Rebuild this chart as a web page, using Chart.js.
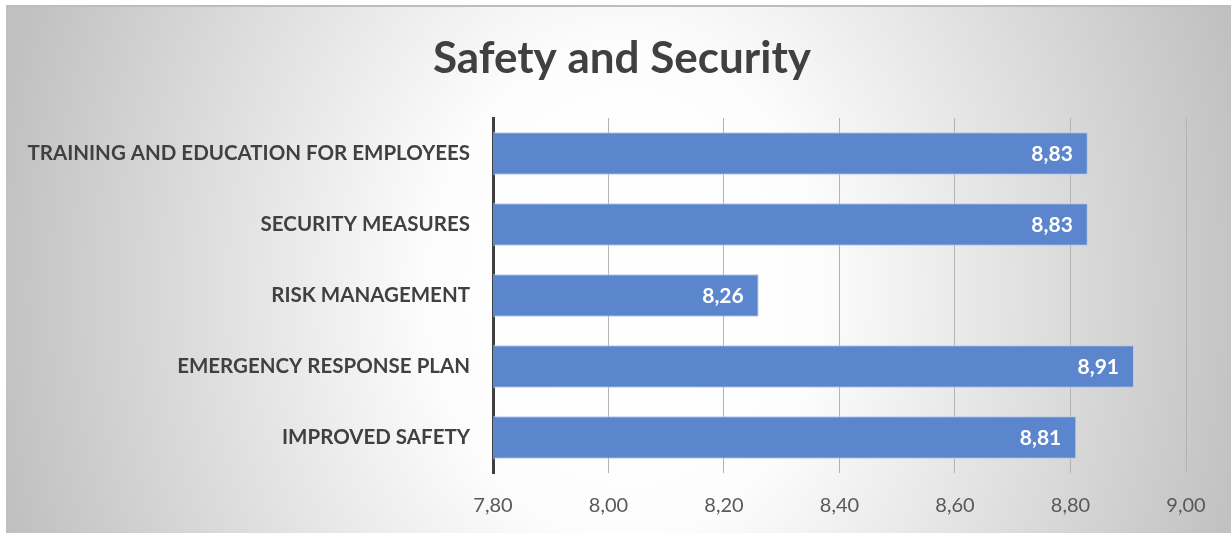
<!DOCTYPE html>
<html>
<head>
<meta charset="utf-8">
<title>Safety and Security</title>
<script src="https://cdn.jsdelivr.net/npm/chart.js@4/dist/chart.umd.min.js"></script>
<style>
  html, body { margin: 0; padding: 0; background: #fff; }
  #wrap { width: 1231px; height: 533px; }
</style>
</head>
<body>
<div id="wrap"><canvas id="myChart" width="1231" height="533"></canvas></div>
<script>
const chartTitle = 'Safety and Security';
const categories = [
  'TRAINING AND EDUCATION FOR EMPLOYEES',
  'SECURITY MEASURES',
  'RISK MANAGEMENT',
  'EMERGENCY RESPONSE PLAN',
  'IMPROVED SAFETY'
];
const scores = [8.83, 8.83, 8.26, 8.91, 8.81];
const axisMin = 7.8;
const axisMax = 9.0;
const axisStep = 0.2;

const fontName = 'Lato, "Open Sans", sans-serif';

function commaNum(v) {
  return Number(v).toFixed(2).replace('.', ',');
}

// grey-to-white radial backdrop like the office chart style
const backdrop = {
  id: 'backdrop',
  beforeDraw(chart) {
    const ctx = chart.ctx;
    const w = chart.width;
    const h = chart.height;
    ctx.save();
    ctx.fillStyle = '#ffffff';
    ctx.fillRect(0, 0, w, h);
    ctx.beginPath();
    ctx.rect(6, 5, w - 6, h - 5);
    ctx.clip();
    ctx.save();
    ctx.translate(625, 290);
    ctx.scale(1, 1.25);
    const g = ctx.createRadialGradient(0, 0, 0, 0, 0, 640);
    g.addColorStop(0, '#ffffff');
    g.addColorStop(0.3, '#fdfdfd');
    g.addColorStop(1, '#c0c0c0');
    ctx.fillStyle = g;
    ctx.fillRect(-700, -300, 1400, 600);
    ctx.restore();
    // thin frame line along the top
    ctx.strokeStyle = '#bdbdbd';
    ctx.lineWidth = 2;
    ctx.beginPath();
    ctx.moveTo(6, 6);
    ctx.lineTo(w, 6);
    ctx.stroke();
    ctx.restore();
  }
};

// title drawn by hand so it can sit a bit right of the canvas centre
const titleText = {
  id: 'titleText',
  afterDraw(chart) {
    const ctx = chart.ctx;
    ctx.save();
    ctx.font = 'bold 44px ' + fontName;
    ctx.fillStyle = '#404040';
    ctx.textAlign = 'center';
    ctx.textBaseline = 'alphabetic';
    ctx.fillText(chartTitle, 622, 73);
    ctx.restore();
  }
};

// white value labels at the inner end of each bar
const barValues = {
  id: 'barValues',
  afterDatasetsDraw(chart) {
    const ctx = chart.ctx;
    const meta = chart.getDatasetMeta(0);
    ctx.save();
    ctx.font = 'bold 21px ' + fontName;
    ctx.fillStyle = '#ffffff';
    ctx.textAlign = 'right';
    ctx.textBaseline = 'middle';
    meta.data.forEach((bar, i) => {
      ctx.fillText(commaNum(scores[i]), bar.x - 15, bar.y + 1);
    });
    ctx.restore();
  }
};

const ctxEl = document.getElementById('myChart');
const chart = new Chart(ctxEl, {
  type: 'bar',
  data: {
    labels: categories,
    datasets: [{
      data: scores,
      backgroundColor: '#5b86ce',
      borderColor: '#b9cbeb',
      borderWidth: 1,
      borderSkipped: false,
      categoryPercentage: 0.6,
      barPercentage: 1.0
    }]
  },
  options: {
    indexAxis: 'y',
    responsive: false,
    animation: false,
    devicePixelRatio: 1,
    layout: { padding: { left: 6, top: 118, right: 45, bottom: 0 } },
    plugins: {
      legend: { display: false },
      tooltip: { enabled: false },
      title: { display: false }
    },
    scales: {
      x: {
        min: axisMin,
        max: axisMax,
        afterFit(scale) { scale.height = 60; },
        ticks: {
          stepSize: axisStep,
          color: '#595959',
          padding: 21,
          font: { family: fontName, size: 20 },
          callback: (v) => commaNum(v)
        },
        grid: { color: '#b3b3b3', lineWidth: 1, drawTicks: false },
        border: { display: false }
      },
      y: {
        afterFit(scale) { scale.width = 487; },
        ticks: {
          color: '#404040',
          padding: 15,
          font: { family: fontName, size: 20.5, weight: 'bold' }
        },
        grid: { display: false },
        border: { display: true, color: '#404040', width: 3 }
      }
    }
  },
  plugins: [backdrop, barValues, titleText]
});
</script>
</body>
</html>
